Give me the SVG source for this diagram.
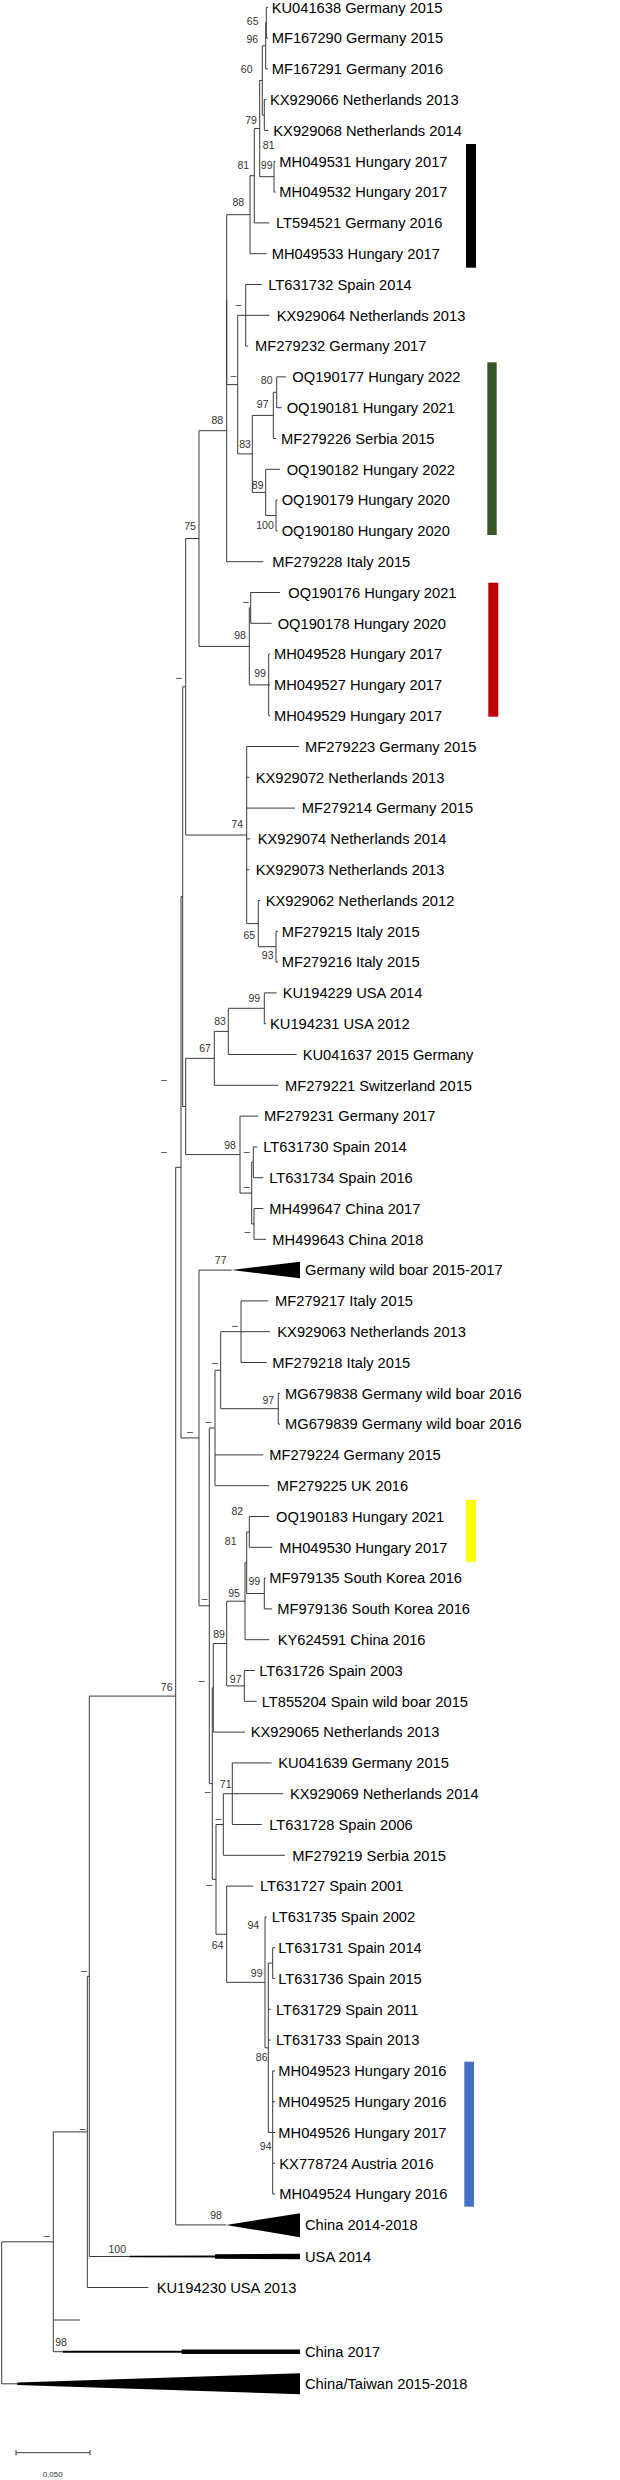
<svg xmlns="http://www.w3.org/2000/svg" width="620" height="2480" viewBox="0 0 620 2480">
<style>
.lf{font-family:"Liberation Sans",Arial,sans-serif;font-size:14.7px;fill:#000}
.bs{font-family:"Liberation Sans",Arial,sans-serif;font-size:10.5px;fill:#333;text-anchor:middle}
.e{fill:none;stroke:#3a3a3a;stroke-width:1}
.cl{fill:#000;stroke:none}
</style>
<rect width="620" height="2480" fill="#fff"/>
<g id="connectors">
<path class="e" d="M266.3 7.3V38.1M266.3 7.3H268M266.3 38.1H268"/>
<path class="e" d="M265.7 22.7V68.9M265.7 22.7H266.3M265.7 68.9H268"/>
<path class="e" d="M264.3 99.7V130.5M264.3 99.7H266.5M264.3 130.5H268.5"/>
<path class="e" d="M262.3 45.8V115.1M262.3 45.8H265.7M262.3 115.1H264.3"/>
<path class="e" d="M274 161.3V192.1M274 161.3H275.5M274 192.1H275.5"/>
<path class="e" d="M259.7 80.45V176.7M259.7 80.45H262.3M259.7 176.7H274"/>
<path class="e" d="M254.3 128.6V222.9M254.3 128.6H259.7M254.3 222.9H269.3"/>
<path class="e" d="M250 175.7V253.7M250 175.7H254.3M250 253.7H266.7"/>
<path class="e" d="M245.7 284.5V346.1M245.7 284.5H261.7M245.7 315.3H269.3M245.7 346.1H248.3"/>
<path class="e" d="M276.7 376.9V407.7M276.7 376.9H286M276.7 407.7H281.7"/>
<path class="e" d="M273.3 392.3V438.5M273.3 392.3H276.7M273.3 438.5H276"/>
<path class="e" d="M276 500.1V530.9M276 500.1H277.7M276 530.9H277.7"/>
<path class="e" d="M265.7 469.3V515.5M265.7 469.3H280M265.7 515.5H276"/>
<path class="e" d="M252.3 415.4V492.4M252.3 415.4H273.3M252.3 492.4H265.7"/>
<path class="e" d="M237.7 315.3V453.9M237.7 315.3H245.7M237.7 453.9H252.3"/>
<path class="e" d="M226.7 214.7V384.6M226.7 214.7H250M226.7 384.6H237.7"/>
<path class="e" d="M226.7 299.7V561.7M226.7 561.7H263.3"/>
<path class="e" d="M250.7 592.5V623.3M250.7 592.5H280M250.7 623.3H271.7"/>
<path class="e" d="M268.7 654.1V715.7M268.7 654.1H270M268.7 684.9H270M268.7 715.7H270"/>
<path class="e" d="M249.3 607.9V684.9M249.3 607.9H250.7M249.3 684.9H268.7"/>
<path class="e" d="M199 430.7V646.4M199 430.7H226.7M199 646.4H249.3"/>
<path class="e" d="M276 931.3V962.1M276 931.3H278M276 962.1H278"/>
<path class="e" d="M258.3 900.5V946.7M258.3 900.5H260M258.3 946.7H276"/>
<path class="e" d="M246.7 746.5V923.6M246.7 746.5H299M246.7 777.3H249.3M246.7 808.1H295M246.7 838.9H250M246.7 869.7H249.3M246.7 923.6H258.3"/>
<path class="e" d="M185.7 538.5V835.05M185.7 538.5H199M185.7 835.05H246.7"/>
<path class="e" d="M264.3 992.9V1023.7M264.3 992.9H276.7M264.3 1023.7H266"/>
<path class="e" d="M228.3 1008.3V1054.5M228.3 1008.3H264.3M228.3 1054.5H296.7"/>
<path class="e" d="M214.3 1031.4V1085.3M214.3 1031.4H228.3M214.3 1085.3H278.3"/>
<path class="e" d="M253.3 1146.9V1177.7M253.3 1146.9H257.3M253.3 1177.7H263.3"/>
<path class="e" d="M254 1208.5V1239.3M254 1208.5H263.3M254 1239.3H266"/>
<path class="e" d="M251.7 1162.3V1223.9M251.7 1162.3H253.3M251.7 1223.9H254"/>
<path class="e" d="M240 1116.1V1193.1M240 1116.1H258.3M240 1193.1H251.7"/>
<path class="e" d="M185.7 1058.35V1154.6M185.7 1058.35H214.3M185.7 1154.6H240"/>
<path class="e" d="M182.7 686.8V1106.5M182.7 686.8H185.7M182.7 1106.5H185.7"/>
<path class="e" d="M241 1300.9V1362.5M241 1300.9H268.3M241 1331.7H270M241 1362.5H266.7"/>
<path class="e" d="M278.3 1393.3V1424.1M278.3 1393.3H280M278.3 1424.1H280"/>
<path class="e" d="M220.7 1331.7V1408.7M220.7 1331.7H241M220.7 1408.7H278.3"/>
<path class="e" d="M215 1370.2V1485.7M215 1370.2H220.7M215 1454.9H263.3M215 1485.7H269.3"/>
<path class="e" d="M249.3 1516.5V1547.3M249.3 1516.5H269.3M249.3 1547.3H272.3"/>
<path class="e" d="M264.3 1578.1V1608.9M264.3 1578.1H266M264.3 1608.9H272"/>
<path class="e" d="M246.7 1531.9V1593.5M246.7 1531.9H249.3M246.7 1593.5H264.3"/>
<path class="e" d="M245 1562.7V1639.7M245 1562.7H246.7M245 1639.7H269.3"/>
<path class="e" d="M244.3 1670.5V1701.3M244.3 1670.5H255M244.3 1701.3H256.7"/>
<path class="e" d="M226.7 1601.2V1685.9M226.7 1601.2H245M226.7 1685.9H244.3"/>
<path class="e" d="M213.3 1643.55V1732.1M213.3 1643.55H226.7M213.3 1732.1H245"/>
<path class="e" d="M232.3 1762.9V1824.5M232.3 1762.9H271.7M232.3 1793.7H283.3M232.3 1824.5H261.7"/>
<path class="e" d="M223.3 1793.7V1855.3M223.3 1793.7H232.3M223.3 1855.3H285"/>
<path class="e" d="M272.7 1947.7V1978.5M272.7 1947.7H275M272.7 1978.5H275"/>
<path class="e" d="M272.7 2070.9V2194.1M272.7 2070.9H275M272.7 2101.7H275M272.7 2132.5H275M272.7 2163.3H275M272.7 2194.1H275"/>
<path class="e" d="M268.3 1963.1V2132.5M268.3 1963.1H272.7M268.3 2009.3H270.5M268.3 2040.1H270.5M268.3 2132.5H272.7"/>
<path class="e" d="M265 1916.9V2047.8M265 1916.9H266.7M265 2047.8H268.3"/>
<path class="e" d="M226.7 1886.1V1982.35M226.7 1886.1H253.3M226.7 1982.35H265"/>
<path class="e" d="M216 1824.5V1934.2M216 1824.5H223.3M216 1934.2H226.7"/>
<path class="e" d="M212.3 1687.8V1879.35M212.3 1687.8H213.3M212.3 1879.35H216"/>
<path class="e" d="M209.3 1427.95V1783.6M209.3 1427.95H215M209.3 1783.6H212.3"/>
<path class="e" d="M199 1270.1V1605.8M199 1270.1H231.7M199 1605.8H209.3"/>
<path class="e" d="M181 896.65V1437.95M181 896.65H182.7M181 1437.95H199"/>
<path class="e" d="M175.7 1167.3V2224.9M175.7 1167.3H181M175.7 2224.9H226"/>
<path class="e" d="M89.3 1696.1V2256.5M89.3 1696.1H175.7M89.3 2256.5H129.3"/>
<path class="e" d="M87.3 1976.3V2287.5M87.3 1976.3H89.3M87.3 2287.5H148.3"/>
<path class="e" d="M53.3 2131.9V2351.7M53.3 2131.9H87.3M53.3 2320H80M53.3 2351.7H62.7"/>
<path class="e" d="M1.7 2241.8V2383.8M1.7 2241.8H53.3M1.7 2383.8H17.3"/>
</g>
<g id="bootstrap">
<text class="bs" x="252.7" y="25.4">65</text>
<text class="bs" x="252.3" y="42.7">96</text>
<text class="bs" x="246.7" y="72.7">60</text>
<text class="bs" x="251" y="123.7">79</text>
<text class="bs" x="268.7" y="148.7">81</text>
<text class="bs" x="266.7" y="169.4">99</text>
<text class="bs" x="243.3" y="169.4">81</text>
<text class="bs" x="238.3" y="206">88</text>
<text class="bs" x="238.3" y="308">–</text>
<text class="bs" x="233.3" y="378.7">–</text>
<text class="bs" x="266.7" y="384.4">80</text>
<text class="bs" x="262.7" y="407.7">97</text>
<text class="bs" x="217.3" y="424.4">88</text>
<text class="bs" x="245" y="448">83</text>
<text class="bs" x="257.7" y="488.7">89</text>
<text class="bs" x="265" y="528.7">100</text>
<text class="bs" x="190" y="529.7">75</text>
<text class="bs" x="246" y="605.4">–</text>
<text class="bs" x="240" y="639.4">98</text>
<text class="bs" x="260" y="677">99</text>
<text class="bs" x="179" y="681.4">–</text>
<text class="bs" x="237.3" y="827.7">74</text>
<text class="bs" x="249.3" y="938.7">65</text>
<text class="bs" x="267.7" y="958.7">93</text>
<text class="bs" x="254.3" y="1002">99</text>
<text class="bs" x="220" y="1025.4">83</text>
<text class="bs" x="205" y="1052">67</text>
<text class="bs" x="164" y="1082.7">–</text>
<text class="bs" x="230" y="1148.7">98</text>
<text class="bs" x="164" y="1154.7">–</text>
<text class="bs" x="246.7" y="1155.4">–</text>
<text class="bs" x="246.7" y="1189.7">–</text>
<text class="bs" x="247.3" y="1235.4">–</text>
<text class="bs" x="220.7" y="1264.4">77</text>
<text class="bs" x="235" y="1329.4">–</text>
<text class="bs" x="215" y="1366.4">–</text>
<text class="bs" x="268.3" y="1403.7">97</text>
<text class="bs" x="208.3" y="1425.4">–</text>
<text class="bs" x="190" y="1435.4">–</text>
<text class="bs" x="237.3" y="1514.7">82</text>
<text class="bs" x="230.7" y="1545.4">81</text>
<text class="bs" x="254.3" y="1585.4">99</text>
<text class="bs" x="234" y="1597">95</text>
<text class="bs" x="204.3" y="1602">–</text>
<text class="bs" x="219" y="1638">89</text>
<text class="bs" x="235.7" y="1682.7">97</text>
<text class="bs" x="201.7" y="1684.4">–</text>
<text class="bs" x="166.7" y="1691.4">76</text>
<text class="bs" x="225.7" y="1787.7">71</text>
<text class="bs" x="207.7" y="1794.7">–</text>
<text class="bs" x="218.3" y="1822">–</text>
<text class="bs" x="209.3" y="1888">–</text>
<text class="bs" x="253.3" y="1929.4">94</text>
<text class="bs" x="217.7" y="1949.4">64</text>
<text class="bs" x="84" y="1973.7">–</text>
<text class="bs" x="256.7" y="1977">99</text>
<text class="bs" x="261.7" y="2061">86</text>
<text class="bs" x="82.7" y="2132">–</text>
<text class="bs" x="265.7" y="2150.4">94</text>
<text class="bs" x="216" y="2219.4">98</text>
<text class="bs" x="46.7" y="2238.7">–</text>
<text class="bs" x="117.3" y="2252.7">100</text>
<text class="bs" x="61" y="2346">98</text>
</g>
<g id="leaf-KU041638"><text class="lf" x="271.7" y="12.6">KU041638 Germany 2015</text></g>
<g id="leaf-MF167290"><text class="lf" x="271.7" y="43.4">MF167290 Germany 2015</text></g>
<g id="leaf-MF167291"><text class="lf" x="271.7" y="74.2">MF167291 Germany 2016</text></g>
<g id="leaf-KX929066"><text class="lf" x="270" y="105">KX929066 Netherlands 2013</text></g>
<g id="leaf-KX929068"><text class="lf" x="273.3" y="135.8">KX929068 Netherlands 2014</text></g>
<g id="leaf-MH049531"><text class="lf" x="279.3" y="166.6">MH049531 Hungary 2017</text></g>
<g id="leaf-MH049532"><text class="lf" x="279.3" y="197.4">MH049532 Hungary 2017</text></g>
<g id="leaf-LT594521"><text class="lf" x="276" y="228.2">LT594521 Germany 2016</text></g>
<g id="leaf-MH049533"><text class="lf" x="271.7" y="259">MH049533 Hungary 2017</text></g>
<g id="leaf-LT631732"><text class="lf" x="268.3" y="289.8">LT631732 Spain 2014</text></g>
<g id="leaf-KX929064"><text class="lf" x="276.7" y="320.6">KX929064 Netherlands 2013</text></g>
<g id="leaf-MF279232"><text class="lf" x="255" y="351.4">MF279232 Germany 2017</text></g>
<g id="leaf-OQ190177"><text class="lf" x="292.3" y="382.2">OQ190177 Hungary 2022</text></g>
<g id="leaf-OQ190181"><text class="lf" x="286.7" y="413">OQ190181 Hungary 2021</text></g>
<g id="leaf-MF279226"><text class="lf" x="281" y="443.8">MF279226 Serbia 2015</text></g>
<g id="leaf-OQ190182"><text class="lf" x="286.7" y="474.6">OQ190182 Hungary 2022</text></g>
<g id="leaf-OQ190179"><text class="lf" x="281.7" y="505.4">OQ190179 Hungary 2020</text></g>
<g id="leaf-OQ190180"><text class="lf" x="281.7" y="536.2">OQ190180 Hungary 2020</text></g>
<g id="leaf-MF279228"><text class="lf" x="272.3" y="567">MF279228 Italy 2015</text></g>
<g id="leaf-OQ190176"><text class="lf" x="288.3" y="597.8">OQ190176 Hungary 2021</text></g>
<g id="leaf-OQ190178"><text class="lf" x="277.7" y="628.6">OQ190178 Hungary 2020</text></g>
<g id="leaf-MH049528"><text class="lf" x="274" y="659.4">MH049528 Hungary 2017</text></g>
<g id="leaf-MH049527"><text class="lf" x="274" y="690.2">MH049527 Hungary 2017</text></g>
<g id="leaf-MH049529"><text class="lf" x="274" y="721">MH049529 Hungary 2017</text></g>
<g id="leaf-MF279223"><text class="lf" x="305" y="751.8">MF279223 Germany 2015</text></g>
<g id="leaf-KX929072"><text class="lf" x="255.7" y="782.6">KX929072 Netherlands 2013</text></g>
<g id="leaf-MF279214"><text class="lf" x="301.7" y="813.4">MF279214 Germany 2015</text></g>
<g id="leaf-KX929074"><text class="lf" x="257.7" y="844.2">KX929074 Netherlands 2014</text></g>
<g id="leaf-KX929073"><text class="lf" x="255.7" y="875">KX929073 Netherlands 2013</text></g>
<g id="leaf-KX929062"><text class="lf" x="265.7" y="905.8">KX929062 Netherlands 2012</text></g>
<g id="leaf-MF279215"><text class="lf" x="281.7" y="936.6">MF279215 Italy 2015</text></g>
<g id="leaf-MF279216"><text class="lf" x="281.7" y="967.4">MF279216 Italy 2015</text></g>
<g id="leaf-KU194229"><text class="lf" x="282.7" y="998.2">KU194229 USA 2014</text></g>
<g id="leaf-KU194231"><text class="lf" x="270" y="1029">KU194231 USA 2012</text></g>
<g id="leaf-KU041637"><text class="lf" x="302.7" y="1059.8">KU041637 2015 Germany</text></g>
<g id="leaf-MF279221"><text class="lf" x="285" y="1090.6">MF279221 Switzerland 2015</text></g>
<g id="leaf-MF279231"><text class="lf" x="264" y="1121.4">MF279231 Germany 2017</text></g>
<g id="leaf-LT631730"><text class="lf" x="263.3" y="1152.2">LT631730 Spain 2014</text></g>
<g id="leaf-LT631734"><text class="lf" x="269.3" y="1183">LT631734 Spain 2016</text></g>
<g id="leaf-MH499647"><text class="lf" x="269.3" y="1213.8">MH499647 China 2017</text></g>
<g id="leaf-MH499643"><text class="lf" x="272.3" y="1244.6">MH499643 China 2018</text></g>
<g id="clade-germany-wild-boar"><polygon class="cl" points="231.7,1270.1 300,1261.7 300,1278.3"/><text class="lf" x="305" y="1275.4">Germany wild boar 2015-2017</text></g>
<g id="leaf-MF279217"><text class="lf" x="275" y="1306.2">MF279217 Italy 2015</text></g>
<g id="leaf-KX929063"><text class="lf" x="277.3" y="1337">KX929063 Netherlands 2013</text></g>
<g id="leaf-MF279218"><text class="lf" x="272.3" y="1367.8">MF279218 Italy 2015</text></g>
<g id="leaf-MG679838"><text class="lf" x="285" y="1398.6">MG679838 Germany wild boar 2016</text></g>
<g id="leaf-MG679839"><text class="lf" x="285" y="1429.4">MG679839 Germany wild boar 2016</text></g>
<g id="leaf-MF279224"><text class="lf" x="269.3" y="1460.2">MF279224 Germany 2015</text></g>
<g id="leaf-MF279225"><text class="lf" x="276.7" y="1491">MF279225 UK 2016</text></g>
<g id="leaf-OQ190183"><text class="lf" x="276" y="1521.8">OQ190183 Hungary 2021</text></g>
<g id="leaf-MH049530"><text class="lf" x="279.3" y="1552.6">MH049530 Hungary 2017</text></g>
<g id="leaf-MF979135"><text class="lf" x="269.3" y="1583.4">MF979135 South Korea 2016</text></g>
<g id="leaf-MF979136"><text class="lf" x="277.3" y="1614.2">MF979136 South Korea 2016</text></g>
<g id="leaf-KY624591"><text class="lf" x="277.7" y="1645">KY624591 China 2016</text></g>
<g id="leaf-LT631726"><text class="lf" x="259.3" y="1675.8">LT631726 Spain 2003</text></g>
<g id="leaf-LT855204"><text class="lf" x="261.7" y="1706.6">LT855204 Spain wild boar 2015</text></g>
<g id="leaf-KX929065"><text class="lf" x="250.7" y="1737.4">KX929065 Netherlands 2013</text></g>
<g id="leaf-KU041639"><text class="lf" x="278.3" y="1768.2">KU041639 Germany 2015</text></g>
<g id="leaf-KX929069"><text class="lf" x="290" y="1799">KX929069 Netherlands 2014</text></g>
<g id="leaf-LT631728"><text class="lf" x="269.3" y="1829.8">LT631728 Spain 2006</text></g>
<g id="leaf-MF279219"><text class="lf" x="292.3" y="1860.6">MF279219 Serbia 2015</text></g>
<g id="leaf-LT631727"><text class="lf" x="260" y="1891.4">LT631727 Spain 2001</text></g>
<g id="leaf-LT631735"><text class="lf" x="271.7" y="1922.2">LT631735 Spain 2002</text></g>
<g id="leaf-LT631731"><text class="lf" x="278.3" y="1953">LT631731 Spain 2014</text></g>
<g id="leaf-LT631736"><text class="lf" x="278.3" y="1983.8">LT631736 Spain 2015</text></g>
<g id="leaf-LT631729"><text class="lf" x="276" y="2014.6">LT631729 Spain 2011</text></g>
<g id="leaf-LT631733"><text class="lf" x="276" y="2045.4">LT631733 Spain 2013</text></g>
<g id="leaf-MH049523"><text class="lf" x="278.3" y="2076.2">MH049523 Hungary 2016</text></g>
<g id="leaf-MH049525"><text class="lf" x="278.3" y="2107">MH049525 Hungary 2016</text></g>
<g id="leaf-MH049526"><text class="lf" x="278.3" y="2137.8">MH049526 Hungary 2017</text></g>
<g id="leaf-KX778724"><text class="lf" x="279.3" y="2168.6">KX778724 Austria 2016</text></g>
<g id="leaf-MH049524"><text class="lf" x="279.3" y="2199.4">MH049524 Hungary 2016</text></g>
<g id="clade-china-2014-2018"><polygon class="cl" points="226,2224.9 300,2213.3 300,2237.3"/><text class="lf" x="305" y="2230.2">China 2014-2018</text></g>
<g id="clade-usa-2014"><polygon class="cl" points="129.3,2255.8 215,2255.4 215,2254.2 300,2253.8 300,2259.2 215,2258.8 215,2257.6 129.3,2257.2"/><text class="lf" x="305" y="2261.8">USA 2014</text></g>
<g id="leaf-KU194230"><text class="lf" x="156.7" y="2292.8">KU194230 USA 2013</text></g>
<g id="clade-china-2017"><polygon class="cl" points="62.7,2350.7 181.7,2350.7 181.7,2349.4 300,2349.4 300,2354 181.7,2354 181.7,2352.7 62.7,2352.7"/><text class="lf" x="305" y="2357">China 2017</text></g>
<g id="clade-china-taiwan"><polygon class="cl" points="17.3,2382.6 300,2373.3 300,2394.3 17.3,2385"/><text class="lf" x="305" y="2389.1">China/Taiwan 2015-2018</text></g>
<g id="group-bars">
<rect x="466" y="144" width="10" height="123.7" fill="#000"/>
<rect x="487.3" y="362.3" width="9.4" height="172.7" fill="#375623"/>
<rect x="488.3" y="582.7" width="10" height="134" fill="#C00000"/>
<rect x="466" y="1500" width="10" height="61.7" fill="#FFFF00"/>
<rect x="464.3" y="2061.7" width="9.7" height="145" fill="#4472C4"/>
</g>
<g id="scale-bar">
<path class="e" d="M16 2452.7H90M16 2450V2455.4M90 2450V2455.4"/>
<text x="52.7" y="2476.5" font-family="Liberation Sans, Arial, sans-serif" font-size="8" fill="#333" text-anchor="middle">0,050</text>
</g>
</svg>
